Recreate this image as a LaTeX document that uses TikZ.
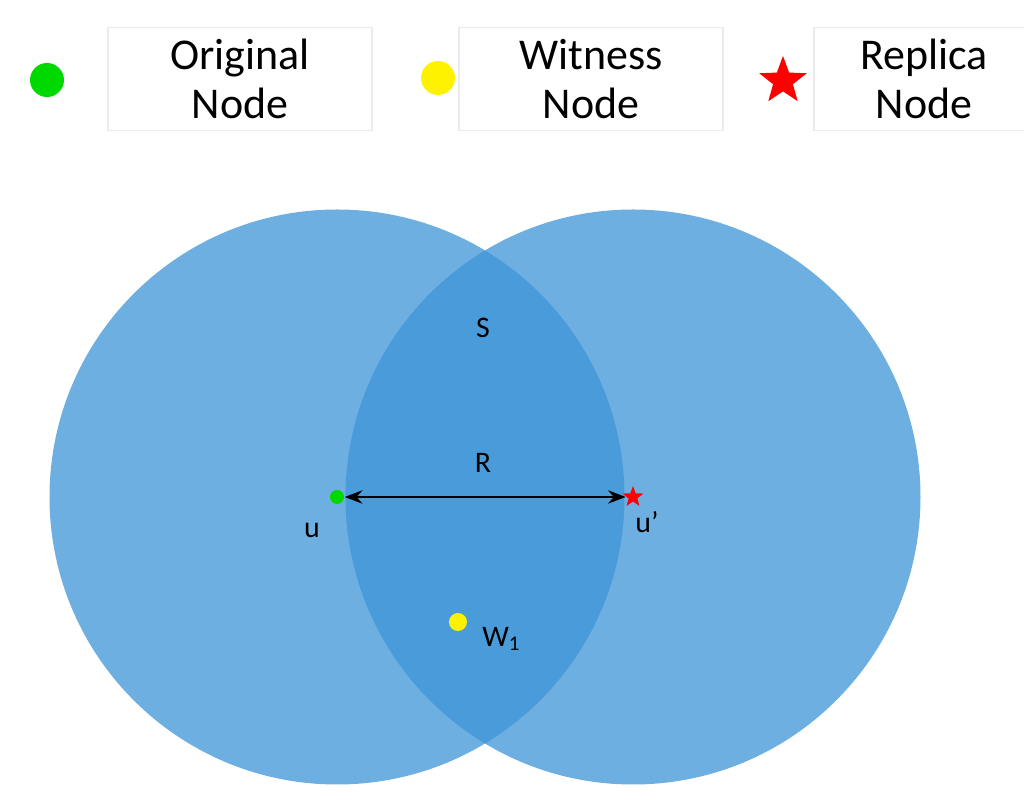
\documentclass[tikz,border=0pt]{standalone}
\usepackage{fontspec}
\setmainfont{Carlito}
\usetikzlibrary{shapes.geometric,arrows.meta}
\definecolor{disc}{RGB}{62,148,215}
\tikzset{
  legbox/.style={rectangle, draw=black!8, fill=white, minimum width=2.64cm, minimum height=0.96cm, align=center, font=\fontsize{12.5}{14}\selectfont},
  lbl/.style={font=\fontsize{8.5}{10}\selectfont},
  area/.style={circle, fill=disc, fill opacity=0.75, minimum size=5.75cm, inner sep=0pt}
}
\begin{document}
\begin{tikzpicture}
  \useasboundingbox (0,0) rectangle (10.24,8.11);
  % legend
  \node[circle, fill=green!85!black, minimum size=0.34cm, inner sep=0pt] (kO) at (0.47,7.31) {};
  \node[legbox] (lO) at (2.40,7.32) {Original\\Node};
  \node[circle, fill=yellow, minimum size=0.34cm, inner sep=0pt] (kW) at (4.38,7.33) {};
  \node[legbox] (lW) at (5.91,7.32) {Witness\\Node};
  \node[star, star points=5, star point ratio=2.4, fill=red, minimum size=0.5cm, inner sep=0pt] (kR) at (7.83,7.30) {};
  \node[legbox, minimum width=2.2cm] (lR) at (9.24,7.32) {Replica\\Node};
  % coverage areas
  \node[area] (A) at (3.37,3.14) {};
  \node[area] (B) at (6.33,3.14) {};
  % nodes
  \node[circle, fill=green!85!black, minimum size=0.14cm, inner sep=0pt] (u) at (3.37,3.14) {};
  \node[star, star points=5, star point ratio=2.4, fill=red, minimum size=0.22cm, inner sep=0pt] (up) at (6.33,3.14) {};
  \node[circle, fill=yellow, minimum size=0.18cm, inner sep=0pt] (w) at (4.58,1.89) {};
  \draw[{Stealth[length=5pt]}-{Stealth[length=5pt]}, thick] (u) -- (up);
  % labels
  \node[lbl] (S) at (4.83,4.83) {S};
  \node[lbl] (R) at (4.83,3.48) {R};
  \node[lbl] (ul) at (3.12,2.81) {u};
  \node[lbl] (upl) at (6.47,2.89) {u'};
  \node[lbl, anchor=west] (wl) at (4.70,1.72) {W\textsubscript{1}};
\end{tikzpicture}
\end{document}
